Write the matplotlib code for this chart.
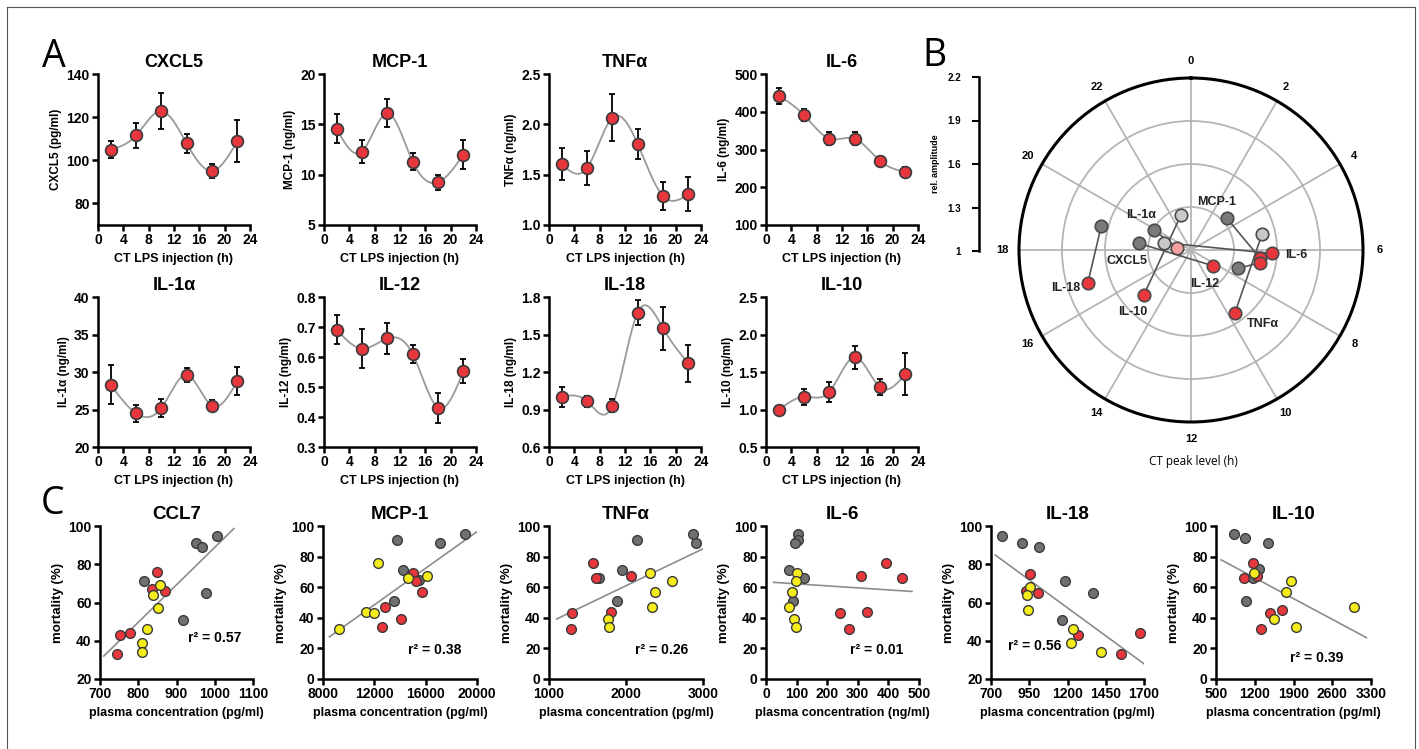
import matplotlib
matplotlib.use("Agg")
import matplotlib.pyplot as plt
from matplotlib.lines import Line2D
import numpy as np

plt.rcParams['font.family'] = ['Liberation Sans', 'DejaVu Sans']
plt.rcParams['font.weight'] = 'bold'
plt.rcParams['axes.labelweight'] = 'bold'
plt.rcParams['axes.titleweight'] = 'bold'

# ---------------- panel A: cytokine time courses ----------------
ct = [2, 6, 10, 14, 18, 22]
cxcl5 = [104.9, 111.5, 122.8, 107.8, 95.1, 108.9]
cxcl5_err = [4.0, 5.7, 8.3, 4.5, 3.3, 9.9]
mcp1 = [14.55, 12.3, 16.1, 11.3, 9.24, 12.0]
mcp1_err = [1.45, 1.1, 1.4, 0.85, 0.75, 1.4]
tnfa = [1.606, 1.566, 2.066, 1.805, 1.288, 1.305]
tnfa_err = [0.16, 0.17, 0.235, 0.15, 0.14, 0.17]
il6 = [442.6, 391.4, 328.8, 328.8, 269.7, 240.5]
il6_err = [21, 17, 18, 17, 7, 14]
il1a = [28.3, 24.5, 25.2, 29.6, 25.5, 28.8]
il1a_err = [2.6, 1.15, 1.24, 0.93, 0.75, 1.9]
il12 = [0.691, 0.628, 0.662, 0.610, 0.431, 0.552]
il12_err = [0.048, 0.064, 0.053, 0.03, 0.05, 0.04]
il18 = [1.004, 0.966, 0.932, 1.675, 1.550, 1.269]
il18_err = [0.08, 0.045, 0.05, 0.10, 0.17, 0.146]
il10 = [0.993, 1.17, 1.236, 1.698, 1.297, 1.474]
il10_err = [0.02, 0.105, 0.13, 0.154, 0.105, 0.277]

# ---------------- panel B: peak phase / amplitude ----------------
cyto_names = ['MCP-1', 'IL-1α', 'CXCL5', 'IL-6', 'IL-12', 'IL-18', 'IL-10', 'TNFα']
gray_peak = [3.25, 19.88, 18.49, 19.0, 7.42, 19.0, 22.94, 5.17]
gray_amp = [1.334, 1.295, 1.368, 1.197, 1.352, 1.648, 1.254, 1.507]
gray_sig = [True, True, True, False, True, True, False, False]
red_peak = [6.46, 18.63, 8.39, 6.16, 6.69, 16.81, 15.09, 9.69]
red_amp = [1.487, 1.099, 1.187, 1.566, 1.492, 1.757, 1.456, 1.537]
red_sig = [True, False, True, True, True, True, True, True]
label_peak = [1.85, 20.33, 17.37, 6.18, 10.59, 16.89, 14.89, 9.05]
label_amp = [1.381, 1.426, 1.453, 1.736, 1.257, 1.915, 1.592, 1.720]

# ---------------- panel C: mortality vs plasma level ----------------
ccl7_gx = [1006, 950, 967, 816, 976, 917]
ccl7_gy = [95, 91, 89, 71, 65, 51]
ccl7_rx = [849, 835, 870, 779, 752, 745]
ccl7_ry = [76, 67, 66, 44, 43, 33]
ccl7_yx = [857, 838, 852, 824, 809, 810]
ccl7_yy = [69, 64, 57, 46, 39, 34]

mcp_gx = [19088, 13739, 17079, 14261, 15487, 13531]
mcp_gy = [95, 91, 89, 71, 65, 51]
mcp_rx = [15044, 15226, 15748, 12800, 14052, 12565]
mcp_ry = [69, 64, 57, 47, 39, 34]
mcp_yx = [12305, 16113, 14600, 11313, 11991, 9226]
mcp_yy = [76, 67, 66, 44, 43, 33]

tnf_gx = [2865, 2139, 2913, 1952, 1648, 1878]
tnf_gy = [95, 91, 89, 71, 66, 51]
tnf_rx = [1574, 2061, 1604, 1804, 1304, 1283]
tnf_ry = [76, 67, 66, 44, 43, 33]
tnf_yx = [2317, 2600, 2383, 2339, 1761, 1783]
tnf_yy = [69, 64, 57, 47, 39, 34]

il6_gx = [105, 105, 94, 74, 123, 87]
il6_gy = [95, 91, 89, 71, 66, 51]
il6_rx = [392, 309, 444, 330, 242, 271]
il6_ry = [76, 67, 66, 44, 43, 33]
il6_yx = [102, 99, 85, 75, 91, 97]
il6_yy = [69, 64, 57, 47, 39, 34]

il18_gx = [774, 900, 1012, 1184, 1364, 1164]
il18_gy = [95, 91, 89, 71, 65, 51]
il18_rx = [954, 929, 1004, 1676, 1266, 1550]
il18_ry = [75, 66, 65, 44, 43, 33]
il18_yx = [952, 934, 939, 1234, 1225, 1420]
il18_yy = [68, 64, 56, 46, 39, 34]

il10_gx = [832, 1031, 1435, 1272, 1164, 1037]
il10_gy = [95, 92, 89, 72, 66, 51]
il10_rx = [1170, 1242, 1001, 1701, 1478, 1309]
il10_ry = [76, 67, 66, 45, 43, 33]
il10_yx = [1188, 1858, 1767, 2986, 1556, 1954]
il10_yy = [69, 64, 57, 47, 39, 34]

r2_values = ['0.57', '0.38', '0.26', '0.01', '0.56', '0.39']

RED = '#e8363d'
YELLOW = '#f7ec1b'
GRAY = '#707070'
EDGE = '#3a3a3a'

W, H = 1419, 749
fig = plt.figure(figsize=(W / 100, H / 100), dpi=100)


def add_px_axes(left, top, right, bottom, **kw):
    return fig.add_axes([left / W, 1 - bottom / H, (right - left) / W, (bottom - top) / H], **kw)


def style_axes(ax, labelsize=10):
    for s in ['top', 'right']:
        ax.spines[s].set_visible(False)
    for s in ['left', 'bottom']:
        ax.spines[s].set_linewidth(1.8)
    ax.tick_params(width=1.8, length=4, labelsize=labelsize, pad=2)


def natural_spline(x, y, num=300):
    x = np.asarray(x, float)
    y = np.asarray(y, float)
    n = len(x)
    h = np.diff(x)
    A = np.zeros((n, n))
    b = np.zeros(n)
    A[0, 0] = 1
    A[-1, -1] = 1
    for i in range(1, n - 1):
        A[i, i - 1] = h[i - 1]
        A[i, i] = 2 * (h[i - 1] + h[i])
        A[i, i + 1] = h[i]
        b[i] = 6 * ((y[i + 1] - y[i]) / h[i] - (y[i] - y[i - 1]) / h[i - 1])
    M = np.linalg.solve(A, b)
    xs = np.linspace(x[0], x[-1], num)
    idx = np.clip(np.searchsorted(x, xs) - 1, 0, n - 2)
    x0, x1 = x[idx], x[idx + 1]
    hh = x1 - x0
    t0 = x1 - xs
    t1 = xs - x0
    ys = (M[idx] * t0 ** 3 / (6 * hh) + M[idx + 1] * t1 ** 3 / (6 * hh)
          + (y[idx] / hh - M[idx] * hh / 6) * t0 + (y[idx + 1] / hh - M[idx + 1] * hh / 6) * t1)
    return xs, ys


# ---- panel A ----
a_panels = [
    ("CXCL5", "CXCL5 (pg/ml)", cxcl5, cxcl5_err, (70, 140), [80, 100, 120, 140], "%d"),
    ("MCP-1", "MCP-1 (ng/ml)", mcp1, mcp1_err, (5, 20), [5, 10, 15, 20], "%d"),
    ("TNFα", "TNFα (ng/ml)", tnfa, tnfa_err, (1, 2.5), [1, 1.5, 2, 2.5], "%.1f"),
    ("IL-6", "IL-6 (ng/ml)", il6, il6_err, (100, 500), [100, 200, 300, 400, 500], "%d"),
    ("IL-1α", "IL-1α (ng/ml)", il1a, il1a_err, (20, 40), [20, 25, 30, 35, 40], "%d"),
    ("IL-12", "IL-12 (ng/ml)", il12, il12_err, (0.3, 0.8), [0.3, 0.4, 0.5, 0.6, 0.7, 0.8], "%.1f"),
    ("IL-18", "IL-18 (ng/ml)", il18, il18_err, (0.6, 1.8), [0.6, 0.9, 1.2, 1.5, 1.8], "%.1f"),
    ("IL-10", "IL-10 (ng/ml)", il10, il10_err, (0.5, 2.5), [0.5, 1.0, 1.5, 2.0, 2.5], "%.1f"),
]
a_left = [98, 324, 549, 766]
a_rows = [(74, 225), (297, 447)]

for k, (title, ylab, mean, err, ylim, yt, fmt) in enumerate(a_panels):
    top, bot = a_rows[k // 4]
    left = a_left[k % 4]
    ax = add_px_axes(left, top, left + 152, bot)
    style_axes(ax)
    xs, ys = natural_spline(ct, mean)
    ax.plot(xs, ys, color='#9a9a9a', lw=1.3, zorder=1)
    ax.errorbar(ct, mean, yerr=err, fmt='none', ecolor='black', elinewidth=1.3,
                capsize=2, capthick=1.3, zorder=2)
    ax.plot(ct, mean, 'o', ms=8.5, mfc=RED, mec=EDGE, mew=1.2, zorder=3, clip_on=False)
    ax.set_xlim(0, 24)
    ax.set_xticks(range(0, 25, 4))
    ax.set_ylim(*ylim)
    ax.set_yticks(yt)
    ax.set_yticklabels([fmt % v for v in yt])
    ax.set_title(title, fontsize=13, pad=5)
    ax.set_xlabel("CT LPS injection (h)", fontsize=9, labelpad=4)
    ax.set_ylabel(ylab, fontsize=8.5, labelpad=3)

# ---- panel B ----
axp = add_px_axes(1019, 78, 1363, 422, polar=True)
axp.set_theta_zero_location('N')
axp.set_theta_direction(-1)
axp.set_ylim(1, 2.2)
axp.set_yticks([1.3, 1.6, 1.9])
axp.set_yticklabels([])
axp.tick_params(axis='y', length=0)
hours = np.arange(0, 24, 2)
axp.set_xticks(hours / 24 * 2 * np.pi)
axp.set_xticklabels([str(h) for h in hours])
axp.tick_params(axis='x', direction='out', length=7, width=1.8, pad=-2, labelsize=8)
axp.grid(True, color='#b5b5b5', lw=1.3)
axp.spines['polar'].set_linewidth(2.2)

for i in range(len(cyto_names)):
    tg = gray_peak[i] / 24 * 2 * np.pi
    tr = red_peak[i] / 24 * 2 * np.pi
    axp.plot([tg, tr], [gray_amp[i], red_amp[i]], color='#555555', lw=1.2, zorder=3)
for i in range(len(cyto_names)):
    tg = gray_peak[i] / 24 * 2 * np.pi
    gc = '#7a7a7c' if gray_sig[i] else '#c8c8c8'
    axp.plot(tg, gray_amp[i], 'o', ms=9, mfc=gc, mec='#4a4a4a', mew=1.2, zorder=4)
for i in range(len(cyto_names)):
    tr = red_peak[i] / 24 * 2 * np.pi
    rc = RED if red_sig[i] else '#f4a0a0'
    axp.plot(tr, red_amp[i], 'o', ms=9, mfc=rc, mec='#4a4a4a', mew=1.2, zorder=5)
for i, name in enumerate(cyto_names):
    axp.text(label_peak[i] / 24 * 2 * np.pi, label_amp[i], name, ha='center', va='center',
             fontsize=9, color='#222222', zorder=6)

# amplitude scale
axa = fig.add_axes([979 / W, 1 - 251 / H, 0.0005, 174 / H])
for s in ['top', 'right', 'bottom']:
    axa.spines[s].set_visible(False)
axa.spines['left'].set_linewidth(1.8)
axa.set_xticks([])
axa.set_ylim(1, 2.2)
axa.set_yticks([1, 1.3, 1.6, 1.9, 2.2])
axa.set_yticklabels(['1', '1.3', '1.6', '1.9', '2.2'])
axa.tick_params(axis='y', width=1.5, length=5, labelsize=7, pad=8)
axa.set_ylabel('rel. amplitude', fontsize=6.5, labelpad=5)

fig.text(1193 / W, 1 - 461 / H, 'CT peak level (h)', ha='center', va='center',
         fontsize=8.5, fontweight='normal', family=['Open Sans', 'DejaVu Sans'])

# ---- panel C ----
c_panels = [
    ("CCL7", "plasma concentration (pg/ml)", (ccl7_gx, ccl7_gy), (ccl7_rx, ccl7_ry), (ccl7_yx, ccl7_yy),
     (700, 1100), [700, 800, 900, 1000, 1100], (20, 100), (710, 1050), (1000, 41.4)),
    ("MCP-1", "plasma concentration (pg/ml)", (mcp_gx, mcp_gy), (mcp_rx, mcp_ry), (mcp_yx, mcp_yy),
     (8000, 20000), [8000, 12000, 16000, 20000], (0, 100), (8500, 20000), (16740, 18.9)),
    ("TNFα", "plasma concentration (pg/ml)", (tnf_gx, tnf_gy), (tnf_rx, tnf_ry), (tnf_yx, tnf_yy),
     (1000, 3000), [1000, 2000, 3000], (0, 100), (1100, 3000), (2465, 18.9)),
    ("IL-6", "plasma concentration (ng/ml)", (il6_gx, il6_gy), (il6_rx, il6_ry), (il6_yx, il6_yy),
     (0, 500), [0, 100, 200, 300, 400, 500], (0, 100), (25, 477), (363, 18.9)),
    ("IL-18", "plasma concentration (pg/ml)", (il18_gx, il18_gy), (il18_rx, il18_ry), (il18_yx, il18_yy),
     (700, 1700), [700, 950, 1200, 1450, 1700], (20, 100), (728, 1698), (984, 37.1)),
    ("IL-10", "plasma concentration (pg/ml)", (il10_gx, il10_gy), (il10_rx, il10_ry), (il10_yx, il10_yy),
     (500, 3300), [500, 1200, 1900, 2600, 3300], (0, 100), (590, 3216), (2310, 13.5)),
]
c_cols = [(100, 253), (323, 477), (549, 703), (766, 919), (991, 1144), (1216, 1371)]

for k, (title, xlab, g, r, y, xlim, xt, ylim, frange, r2pos) in enumerate(c_panels):
    left, right = c_cols[k]
    ax = add_px_axes(left, 526, right, 679)
    style_axes(ax)
    allx = np.array(g[0] + r[0] + y[0], float)
    ally = np.array(g[1] + r[1] + y[1], float)
    m, b = np.polyfit(allx, ally, 1)
    fx = np.array(frange, float)
    ax.plot(fx, m * fx + b, color='#8c8c8c', lw=1.2, zorder=1)
    ax.plot(g[0], g[1], 'o', ms=7, mfc=GRAY, mec=EDGE, mew=1, zorder=2, clip_on=False)
    ax.plot(r[0], r[1], 'o', ms=7, mfc=RED, mec=EDGE, mew=1, zorder=3, clip_on=False)
    ax.plot(y[0], y[1], 'o', ms=7, mfc=YELLOW, mec=EDGE, mew=1, zorder=4, clip_on=False)
    ax.text(r2pos[0], r2pos[1], 'r² = ' + r2_values[k], ha='center', va='center', fontsize=10)
    ax.set_xlim(*xlim)
    ax.set_xticks(xt)
    ax.set_ylim(*ylim)
    ax.set_yticks(range(ylim[0], 101, 20))
    ax.set_title(title, fontsize=13.5, pad=5)
    ax.set_xlabel(xlab, fontsize=9, labelpad=4)
    ax.set_ylabel('mortality (%)', fontsize=9.5, labelpad=3)

# panel letters
for letter, x, y in [('A', 54, 57), ('B', 934, 56), ('C', 53, 504)]:
    fig.text(x / W, 1 - y / H, letter, ha='center', va='center', fontsize=27,
             fontweight='normal', family=['Open Sans', 'DejaVu Sans'])

# outer frame
for xs_, ys_ in [([7, 1415], [7, 7]), ([7, 7], [7, 749]), ([1415, 1415], [7, 749])]:
    fig.add_artist(Line2D([v / W for v in xs_], [1 - v / H for v in ys_], color='#555555', lw=0.8))

fig.savefig('out.png', dpi=100)
